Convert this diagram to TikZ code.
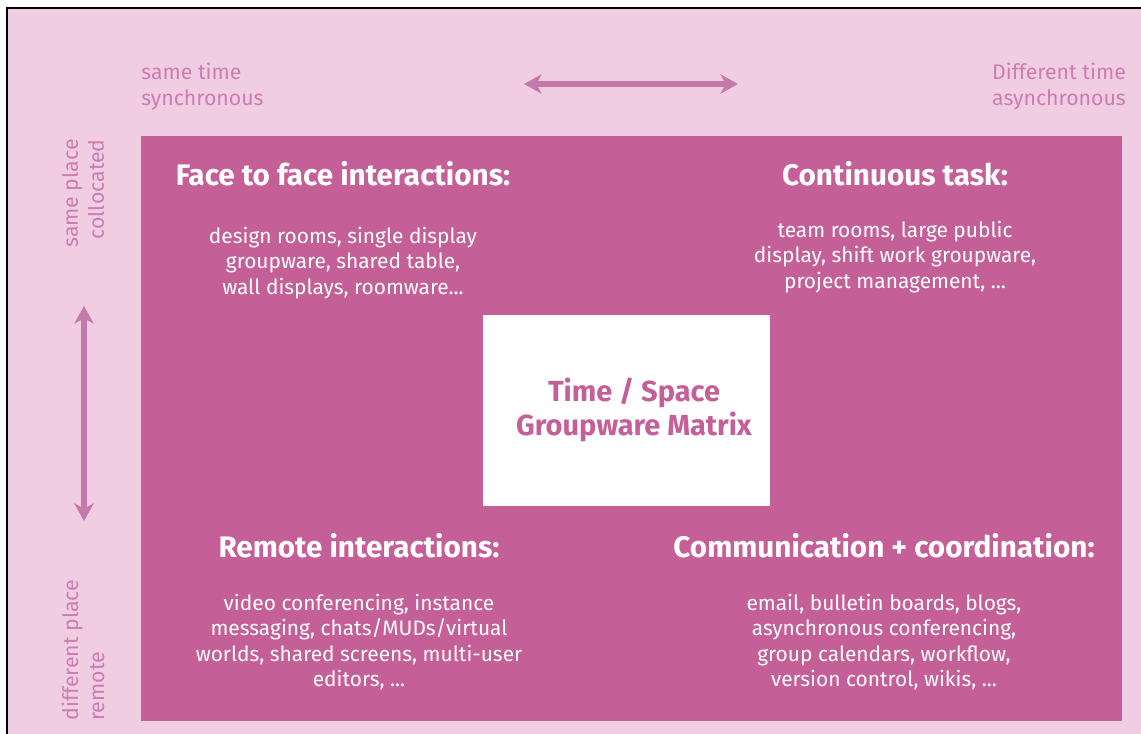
\documentclass[tikz,border=0pt]{standalone}
\usepackage{fontspec}
\setmainfont{Fira Sans}
\usepackage{xcolor}
\usetikzlibrary{arrows.meta}

\definecolor{paneback}{HTML}{F1CDE3}
\definecolor{matrixfill}{HTML}{C55F98}
\definecolor{axislabel}{HTML}{CB7DB0}
\definecolor{axisarrow}{HTML}{C479AA}

\tikzset{
  axistext/.style={text=axislabel, font=\fontsize{12.1}{14.8}\selectfont, inner sep=0pt},
  quadhead/.style={text=white, font=\fontsize{16.9}{20}\selectfont\bfseries, inner sep=0pt},
  quadbody/.style={text=white, font=\fontsize{11.9}{14.5}\selectfont, align=center, inner sep=0pt},
  axisline/.style={draw=axisarrow, line width=3.4pt,
    {Stealth[length=10pt,width=11pt,inset=3pt]}-{Stealth[length=10pt,width=11pt,inset=3pt]}},
}

\begin{document}
\begin{tikzpicture}[x=0.02cm, y=-0.02cm]
                \useasboundingbox (0,0) rectangle (1141,733);
                \clip (0,0) rectangle (1141,733);

                %% frame
                \draw[black, line width=1.1pt, fill=paneback] (7,8) rectangle (1160,760);

                %% matrix
                \fill[matrixfill] (141,136) rectangle (1122,721);
                \fill[white] (483,315) rectangle (770,506);
                \node[text=matrixfill, font=\fontsize{16.5}{19.3}\selectfont\bfseries, align=center, inner sep=0pt]
                    (title) at (634,410) {Time / Space\\Groupware Matrix};

                %% time axis
                \node[axistext, anchor=west, align=left] (sync) at (141,86) {same time\\synchronous};
                \node[axistext, align=center] (async) at (1059,86) {Different time\\asynchronous};
                \coordinate (syncend) at (524,84);
                \coordinate (asyncend) at (738,84);
                \draw[axisline] (syncend) -- (asyncend);

                %% place axis
                \node[axistext, rotate=90, anchor=east, align=right] (same) at (83,139) {same place\\collocated};
                \node[axistext, rotate=90, anchor=west, align=left] (diff) at (83,721) {different place\\remote};
                \coordinate (sameend) at (84,306);
                \coordinate (diffend) at (84,521);
                \draw[axisline] (sameend) -- (diffend);

                %% quadrants
                \node[quadhead] (facehead) at (343,174) {Face to face interactions:};
                \node[quadbody] (facebody) at (343,263) {design rooms, single display\\groupware, shared table,\\wall displays, roomware...};

                \node[quadhead] (conthead) at (895,174) {Continuous task:};
                \node[quadbody] (contbody) at (895,257) {team rooms, large public\\display, shift work groupware,\\project management, ...};

                \node[quadhead] (remhead) at (359,546) {Remote interactions:};
                \node[quadbody] (rembody) at (359,642) {video conferencing, instance\\messaging, chats/MUDs/virtual\\worlds, shared screens, multi-user\\editors, ...};

                \node[quadhead] (commhead) at (884,546) {Communication + coordination:};
                \node[quadbody] (commbody) at (884,642) {email, bulletin boards, blogs,\\asynchronous conferencing,\\group calendars, workflow,\\version control, wikis, ...};

            \end{tikzpicture}
\end{document}
